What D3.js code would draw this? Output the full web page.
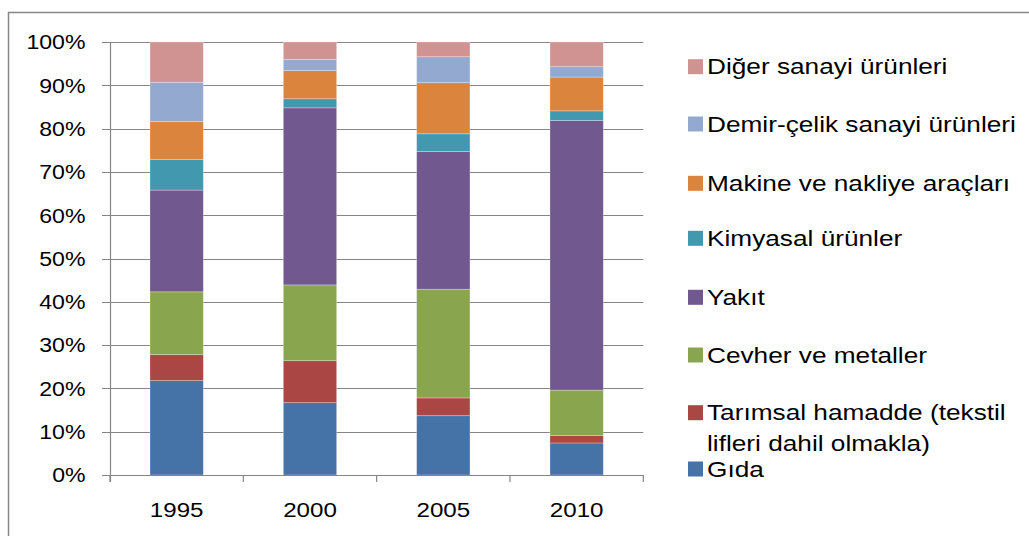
<!DOCTYPE html>
<html><head><meta charset="utf-8">
<script src="https://cdn.jsdelivr.net/npm/d3@7"></script>
<style>body{margin:0;background:#fff}svg{display:block}</style>
</head><body><svg id="c" width="1029" height="536"></svg>
<script>
const categories = ["1995","2000","2005","2010"];
const seriesNames = ["Gıda","Tarımsal hamadde (tekstil lifleri dahil olmakla)","Cevher ve metaller","Yakıt","Kimyasal ürünler","Makine ve nakliye araçları","Demir-çelik sanayi ürünleri","Diğer sanayi ürünleri"];
const gida      = [21.8,16.7,13.7,7.4];
const tarimsal  = [6.0,9.7,4.1,1.7];
const cevher    = [14.5,17.5,25.1,10.5];
const yakit     = [23.5,40.9,31.8,62.3];
const kimyasal  = [7.1,2.1,4.1,2.2];
const makine    = [8.7,6.5,11.8,7.8];
const demir     = [9.1,2.6,6.0,2.4];
const diger     = [9.3,4.0,3.4,5.7];
const colors = ["#4572A7","#AA4643","#89A54E","#71588F","#4198AF","#DB843D","#93A9CF","#D19392"];
const yTicks = [0,10,20,30,40,50,60,70,80,90,100];
const legendLines = [["Diğer sanayi ürünleri"],["Demir-çelik sanayi ürünleri"],["Makine ve nakliye araçları"],["Kimyasal ürünler"],["Yakıt"],["Cevher ve metaller"],["Tarımsal hamadde (tekstil","lifleri dahil olmakla)"],["Gıda"]];

const seriesValues = [gida,tarimsal,cevher,yakit,kimyasal,makine,demir,diger];
const rows = categories.map((c,i)=>{const r={cat:c};seriesNames.forEach((s,j)=>r[s]=seriesValues[j][i]);return r;});
const stacked = d3.stack().keys(seriesNames).offset(d3.stackOffsetExpand)(rows);

const svg = d3.select("#c");
const font = "'Liberation Sans', Arial, sans-serif";
svg.append("rect").attr("x",8.5).attr("y",12.5).attr("width",1100).attr("height",600)
  .attr("fill","#fff").attr("stroke","#868686").attr("stroke-width",1.5);

const x0=110, x1=643.3, yTop=42, yBot=475;
const x = d3.scaleBand().domain(categories).range([x0,x1]).paddingInner(0.6).paddingOuter(0.3);
const y = d3.scaleLinear().domain([0,1]).range([yBot,yTop]);

function stretchText(sel, px, py, sx){
  sel.attr("transform",(d,i)=>`translate(${px(d,i)},${py(d,i)}) scale(${sx},1)`);
}

// gridlines
svg.append("g").selectAll("line").data(yTicks).join("line")
  .attr("x1",x0-8).attr("x2",x1).attr("y1",d=>Math.round(y(d/100))+0.5).attr("y2",d=>Math.round(y(d/100))+0.5)
  .attr("stroke","#868686").attr("stroke-width",1.2);
svg.append("g").selectAll("text").data(yTicks).join("text")
  .attr("dy","0.35em").attr("text-anchor","end")
  .style("font-family",font).style("font-size","21px").attr("fill","#000").text(d=>d+"%")
  .call(stretchText,()=>85.5,d=>y(d/100),1.1);

// bars
svg.append("g").selectAll("g").data(stacked).join("g").attr("fill",(d,i)=>colors[i])
  .selectAll("rect").data(d=>d).join("rect")
  .attr("x",d=>x(d.data.cat)).attr("width",x.bandwidth())
  .attr("y",d=>y(d[1])).attr("height",d=>y(d[0])-y(d[1]))
  .attr("stroke","#fff").attr("stroke-opacity",0.35).attr("stroke-width",0.8);

// axes lines
svg.append("line").attr("x1",x0+0.5).attr("x2",x0+0.5).attr("y1",yTop).attr("y2",yBot+7).attr("stroke","#868686").attr("stroke-width",1.2);
svg.append("line").attr("x1",x0).attr("x2",x1).attr("y1",yBot+0.5).attr("y2",yBot+0.5).attr("stroke","#868686").attr("stroke-width",1.2);
const step = (x1-x0)/categories.length;
svg.append("g").selectAll("line").data(d3.range(categories.length+1)).join("line")
  .attr("x1",i=>x0+i*step).attr("x2",i=>x0+i*step).attr("y1",yBot).attr("y2",yBot+7)
  .attr("stroke","#868686").attr("stroke-width",1.2);
svg.append("g").selectAll("text").data(categories).join("text")
  .attr("dy","0.35em").attr("text-anchor","middle")
  .style("font-family",font).style("font-size","21px").text(d=>d)
  .call(stretchText,d=>x(d)+x.bandwidth()/2,()=>510,1.15);

// legend
const legY = [66.7,124,183.3,238.3,297.3,355,412.7,469];
const legColors = colors.slice().reverse();
const lg = svg.append("g");
legendLines.forEach((lines,i)=>{
  lg.append("rect").attr("x",688).attr("y",legY[i]-7.5).attr("width",15).attr("height",15).attr("fill",legColors[i]);
  lines.forEach((t,k)=>{
    lg.append("text").attr("dy","0.35em")
      .attr("transform",`translate(707,${legY[i]+k*30.6}) scale(1.22,1)`)
      .style("font-family",font).style("font-size","21.5px").text(t);
  });
});
</script></body></html>
